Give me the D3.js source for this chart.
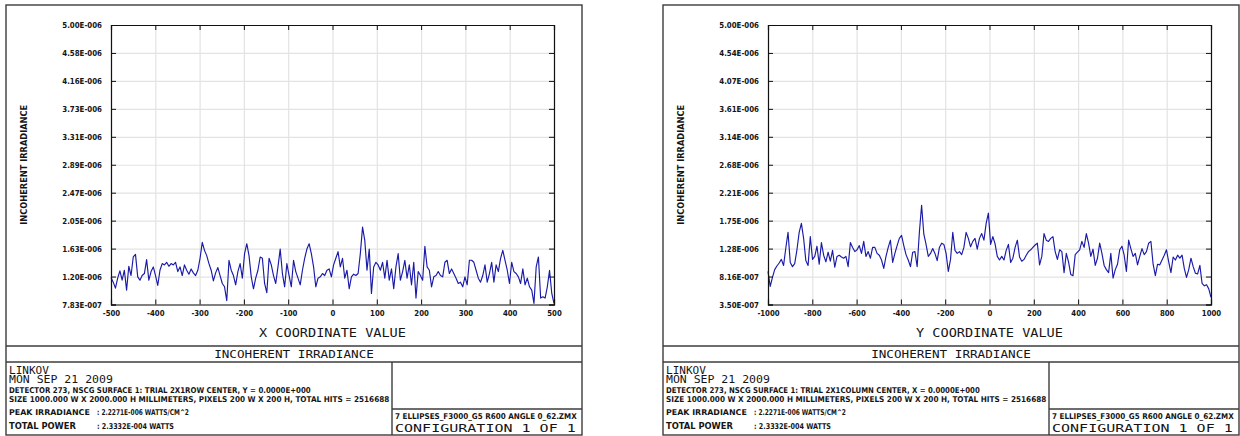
<!DOCTYPE html>
<html>
<head>
<meta charset="utf-8">
<script src="https://cdn.jsdelivr.net/npm/d3@7/dist/d3.min.js"></script>
<style>
  html, body { margin: 0; padding: 0; background: #fff; }
  svg { display: block; }
</style>
</head>
<body>
<svg id="chart" width="1240" height="436"></svg>
<script>
// Irradiance profiles, in units of 1E-006 W/cm^2, one value per detector pixel (200 pixels)
const rowIrradiance = [
  1.19,1.12,1.03,1.18,1.29,1.15,1.30,1.00,1.36,1.22,
  1.50,1.54,1.20,1.15,1.22,1.25,1.46,1.15,1.28,1.35,
  1.22,1.07,1.30,1.40,1.38,1.42,1.36,1.40,1.38,1.42,
  1.28,1.35,1.22,1.38,1.30,1.24,1.32,1.26,1.22,1.30,
  1.48,1.72,1.60,1.52,1.40,1.30,1.14,1.26,1.34,1.22,
  1.10,1.05,0.84,1.45,1.30,1.22,1.08,1.28,1.40,1.18,
  1.55,1.70,1.52,1.20,1.02,1.18,1.30,1.50,1.48,1.10,
  0.96,1.48,1.38,1.22,1.10,1.35,1.62,1.25,1.05,1.40,
  1.22,1.05,1.45,1.28,1.18,1.08,1.30,1.48,1.62,1.70,
  1.55,1.35,1.05,1.18,1.20,1.25,1.22,1.30,1.32,1.20,
  1.38,1.48,1.58,1.35,1.48,1.18,1.30,1.02,1.20,1.24,
  1.22,1.25,1.55,1.95,1.75,1.30,1.62,0.95,1.35,1.42,
  1.38,1.30,1.42,1.18,1.45,1.15,1.32,1.02,1.35,1.55,
  1.15,1.28,1.45,1.18,1.38,1.08,1.42,0.88,1.28,1.22,
  1.15,1.66,1.35,1.30,1.05,1.20,1.22,1.28,1.22,1.20,
  1.42,1.45,1.25,1.32,1.25,1.18,1.10,1.12,1.05,1.20,
  1.08,1.45,1.45,1.42,1.30,1.18,1.12,1.22,1.38,1.12,
  1.25,1.42,1.12,1.38,1.28,1.48,1.60,1.45,1.30,1.10,
  1.42,1.28,1.25,1.20,1.10,1.32,1.08,1.18,1.05,1.00,
  0.80,1.35,1.50,0.88,0.90,0.88,1.05,1.30,0.95,0.80
];

const columnIrradiance = [
  0.90,0.65,0.80,0.93,0.99,1.04,1.10,1.00,1.29,1.55,
  1.05,0.98,1.03,1.26,1.55,1.70,1.45,1.08,1.00,1.48,
  1.10,1.15,1.32,1.02,1.38,1.17,1.06,1.22,1.07,1.25,
  0.97,1.15,1.17,1.14,1.12,1.15,0.98,1.38,1.30,1.23,
  1.26,1.33,1.20,1.40,1.15,1.23,1.12,1.30,1.30,1.20,
  1.17,1.09,0.95,1.15,1.30,1.42,1.05,1.20,1.33,1.45,
  1.50,1.33,1.18,1.09,0.98,1.22,1.23,0.98,1.55,2.00,
  1.52,1.35,1.15,1.20,1.28,1.20,1.08,1.30,1.37,1.35,
  1.20,0.90,1.10,1.55,1.25,1.20,1.23,1.18,1.30,1.55,
  1.45,1.31,1.40,1.45,1.27,1.45,1.53,1.42,1.70,1.87,
  1.35,1.48,1.36,1.15,1.09,1.15,1.09,1.25,1.35,1.05,
  1.12,1.30,1.42,1.14,1.07,1.10,1.17,1.23,1.26,1.30,
  1.34,1.37,1.01,1.15,1.53,1.42,1.40,1.45,1.48,1.23,
  1.10,1.26,1.23,0.88,1.20,1.06,0.85,0.83,1.18,1.22,
  1.26,1.40,1.30,1.53,1.37,1.15,1.27,1.00,1.12,1.37,
  1.20,1.00,0.93,0.88,1.20,0.79,0.93,1.02,1.26,1.32,
  1.17,0.90,1.42,1.28,1.15,1.20,1.01,1.15,1.28,1.18,
  1.23,1.37,1.40,1.02,0.83,1.02,1.01,1.09,1.17,1.26,
  1.06,0.88,1.14,1.09,1.17,1.12,1.17,0.95,0.80,0.93,
  1.12,0.98,0.87,0.86,1.00,0.70,0.66,0.68,0.61,0.47
];

// Axis ranges (irradiance in 1E-006 units) and tick labels
const rowYRange = [0.783, 5.00];
const columnYRange = [0.350, 5.00];
const rowYTickLabels = ["7.83E-007","1.20E-006","1.63E-006","2.05E-006","2.47E-006","2.89E-006",
                        "3.31E-006","3.73E-006","4.16E-006","4.58E-006","5.00E-006"];
const columnYTickLabels = ["3.50E-007","8.16E-007","1.28E-006","1.75E-006","2.21E-006","2.68E-006",
                           "3.14E-006","3.61E-006","4.07E-006","4.54E-006","5.00E-006"];
const rowXTicks = [-500,-400,-300,-200,-100,0,100,200,300,400,500];
const columnXTicks = [-1000,-800,-600,-400,-200,0,200,400,600,800,1000];

// Text block contents
const userName = "LINKOV";
const runDate = "MON SEP 21 2009";
const plotTitle = "INCOHERENT IRRADIANCE";
const yAxisTitle = "INCOHERENT IRRADIANCE";
const rowDetectorLine = "DETECTOR 273, NSCG SURFACE 1: TRIAL 2X1ROW CENTER, Y = 0.0000E+000";
const columnDetectorLine = "DETECTOR 273, NSCG SURFACE 1: TRIAL 2X1COLUMN CENTER, X = 0.0000E+000";
const sizeLine = "SIZE 1000.000 W X 2000.000 H MILLIMETERS, PIXELS 200 W X 200 H, TOTAL HITS = 2516688";
const peakLabel = "PEAK IRRADIANCE";
const peakValue = ": 2.2271E-006 WATTS/CM^2";
const powerLabel = "TOTAL POWER";
const powerValue = ": 2.3332E-004 WATTS";
const fileName = "7 ELLIPSES_F3000_G5 R600 ANGLE 0_62.ZMX";
const configLine = "CONFIGURATION  1  OF  1";

const THIN = "'DejaVu Sans Mono', 'Liberation Mono', monospace";
const BOLD = "'DejaVu Sans', 'Liberation Sans', sans-serif";
const INK = "#151515";
const FRAME = "#3c3c3c";
const LINE = "#1a1aa8";
const GRID = "#e3e3e3";

const svg = d3.select("#chart");

// text helper: anchor x, vertical centre of capitals, options;
// a horizontal scale squeezes the string to the wanted width
function addText(g, s, x, cy, o) {
  const fs = o.fs;
  const t = g.append("text")
    .attr("x", 0).attr("y", 0.364 * fs)
    .attr("font-family", o.bold ? BOLD : THIN)
    .attr("font-weight", o.bold ? 700 : 400)
    .attr("font-size", fs)
    .attr("text-anchor", o.anchor || "start")
    .attr("fill", INK)
    .text(s);
  const k = o.width ? o.width / t.node().getComputedTextLength() : 1;
  const rot = o.rotate ? ` rotate(${o.rotate})` : "";
  t.attr("transform", `translate(${x},${cy})${rot} scale(${k},1)`);
  return t;
}

function squeeze(sel, k) {
  sel.each(function () {
    const el = d3.select(this);
    const anchorX = +el.attr("x") || 0;
    el.attr("transform", `translate(${anchorX},0) scale(${k},1)`).attr("x", 0);
  });
}

const panels = [
  { ox: 6, xTicks: rowXTicks, yRange: rowYRange, yLabels: rowYTickLabels,
    values: rowIrradiance, xTitle: "X COORDINATE VALUE", detector: rowDetectorLine, detW: 302 },
  { ox: 663, xTicks: columnXTicks, yRange: columnYRange, yLabels: columnYTickLabels,
    values: columnIrradiance, xTitle: "Y COORDINATE VALUE", detector: columnDetectorLine, detW: 314 }
];

panels.forEach(p => {
  const g = svg.append("g");
  const ox = p.ox;
  const pw = 576;
  const left = ox + 105, right = ox + 548, top = 25, bottom = 304.5;

  const xDom = [p.xTicks[0], p.xTicks[p.xTicks.length - 1]];
  const x = d3.scaleLinear().domain(xDom).range([left, right]);
  const y = d3.scaleLinear().domain(p.yRange).range([bottom, top]);
  const yTicks = p.yLabels.map((_, i) => p.yRange[0] + (p.yRange[1] - p.yRange[0]) * i / 10);
  const xPix = d3.scaleLinear().domain([0, p.values.length - 1]).range(xDom);

  // outer frame
  g.append("rect").attr("x", ox).attr("y", 5).attr("width", pw).attr("height", 430)
    .attr("fill", "none").attr("stroke", FRAME).attr("stroke-width", 1.4);

  // grid
  g.append("g").attr("transform", `translate(0,${bottom})`)
    .call(d3.axisBottom(x).tickValues(p.xTicks).tickSize(-(bottom - top)).tickFormat(""))
    .call(a => a.select(".domain").remove())
    .call(a => a.selectAll("line").attr("stroke", GRID).attr("stroke-width", 1.2));
  g.append("g").attr("transform", `translate(${left},0)`)
    .call(d3.axisLeft(y).tickValues(yTicks).tickSize(-(right - left)).tickFormat(""))
    .call(a => a.select(".domain").remove())
    .call(a => a.selectAll("line").attr("stroke", GRID).attr("stroke-width", 1.2));

  // data line
  g.append("path")
    .datum(p.values)
    .attr("fill", "none").attr("stroke", LINE).attr("stroke-width", 1.15)
    .attr("stroke-linejoin", "round")
    .attr("d", d3.line().x((d, i) => x(xPix(i))).y(d => y(d)));

  // axes with inward ticks
  const yAx = g.append("g").attr("transform", `translate(${left},0)`)
    .call(d3.axisLeft(y).tickValues(yTicks).tickSize(-5).tickPadding(9)
      .tickFormat((d, i) => p.yLabels[i]));
  yAx.selectAll("text").attr("font-family", BOLD).attr("font-weight", 700)
    .attr("font-size", 8.2).attr("fill", INK).attr("dy", "0.36em");
  squeeze(yAx.selectAll("text"), 0.86);

  const xAx = g.append("g").attr("transform", `translate(0,${bottom})`)
    .call(d3.axisBottom(x).tickValues(p.xTicks).tickSize(-5).tickPadding(6)
      .tickFormat(d => String(d)));
  xAx.selectAll("text").attr("font-family", BOLD).attr("font-weight", 700)
    .attr("font-size", 8.2).attr("fill", INK);
  squeeze(xAx.selectAll("text"), 0.85);

  g.append("g").attr("transform", `translate(${right},0)`)
    .call(d3.axisRight(y).tickValues(yTicks).tickSize(-5).tickFormat(""));
  g.append("g").attr("transform", `translate(0,${top})`)
    .call(d3.axisTop(x).tickValues(p.xTicks).tickSize(-5).tickFormat(""));

  svg.selectAll(".domain").attr("stroke", "#111").attr("stroke-width", 1.2);
  svg.selectAll(".tick line").filter(function () { return d3.select(this).attr("stroke") !== GRID; })
    .attr("stroke", "#111");

  // axis titles
  addText(g, p.xTitle, (left + right) / 2, 333, { fs: 12, anchor: "middle", width: 147 });
  addText(g, yAxisTitle, ox + 18, (top + bottom) / 2,
    { fs: 9, bold: true, anchor: "middle", width: 120, rotate: -90 });

  // title row and text block
  const rule = (x1, y1, x2, y2) => g.append("line")
    .attr("x1", x1).attr("y1", y1).attr("x2", x2).attr("y2", y2)
    .attr("stroke", FRAME).attr("stroke-width", 1.4);
  rule(ox, 346, ox + pw, 346);
  rule(ox, 362, ox + pw, 362);
  rule(ox + 386, 362, ox + 386, 435);
  rule(ox + 386, 409, ox + pw, 409);

  addText(g, plotTitle, ox + pw / 2, 354.5, { fs: 10.5, anchor: "middle", width: 160 });

  const tx = ox + 3;
  addText(g, userName, tx, 370.5, { fs: 10, width: 40 });
  addText(g, runDate, tx, 379.5, { fs: 10, width: 104 });
  addText(g, p.detector, tx, 390, { fs: 8, bold: true, width: p.detW });
  addText(g, sizeLine, tx, 399.5, { fs: 8, bold: true, width: 381 });
  addText(g, peakLabel, tx, 412, { fs: 8, bold: true, width: 81 });
  addText(g, peakValue, ox + 91, 412, { fs: 8, bold: true, width: 92 });
  addText(g, powerLabel, tx, 426, { fs: 8, bold: true, width: 67 });
  addText(g, powerValue, ox + 91, 426, { fs: 8, bold: true, width: 77 });

  addText(g, fileName, ox + 389, 416, { fs: 8, bold: true, width: 182 });
  addText(g, configLine, ox + 389, 428, { fs: 10, width: 181 });
});
</script>
</body>
</html>
